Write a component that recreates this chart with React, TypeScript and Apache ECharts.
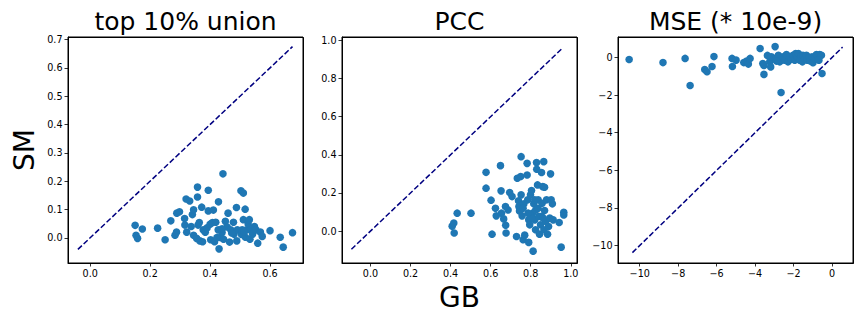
import React, { useEffect, useRef } from "react";
import * as echarts from "echarts";

const titles = ["top 10% union", "PCC", "MSE (* 10e-9)"];
const xLabel = "GB";
const yLabel = "SM";

const unionX = [0.150,0.153,0.158,0.174,0.225,0.25,0.269,0.283,0.288,0.289,0.298,0.315,0.316,0.320,0.322,0.332,0.337,0.341,0.345,0.345,0.355,0.358,0.358,0.360,0.364,0.366,0.372,0.375,0.377,0.384,0.390,0.394,0.394,0.40,0.402,0.408,0.411,0.415,0.419,0.423,0.427,0.428,0.430,0.434,0.440,0.443,0.445,0.451,0.457,0.460,0.465,0.469,0.478,0.480,0.488,0.489,0.491,0.503,0.505,0.507,0.511,0.511,0.517,0.518,0.522,0.527,0.531,0.533,0.536,0.542,0.548,0.553,0.559,0.568,0.574,0.60,0.634,0.644,0.675,0.44,0.472,0.513];
const unionY = [0.044,0.009,-0.002,0.031,0.034,-0.007,0.060,0.009,0.020,0.087,0.092,0.068,0.045,0.137,0.020,0.130,0.040,0.082,0.099,0.009,-0.002,0.179,0.144,0.045,0.054,-0.011,0.108,-0.014,0.028,0.020,0.035,0.168,0.095,0.048,-0.007,0.054,0.098,-0.014,0.055,0.001,0.028,0.127,-0.039,0.001,0.019,0.226,-0.005,0.058,0.038,0.087,-0.015,0.028,0.055,0.013,0.107,-0.011,0.028,0.166,0.012,0.028,0.158,0.064,0.101,0.002,0.028,0.049,0.064,-0.005,0.028,0.013,0.040,0.028,-0.019,0.020,0.005,0.025,0.002,-0.033,0.018,0.032,0.017,0.022];

const pccX = [0.408,0.416,0.418,0.433,0.502,0.577,0.577,0.602,0.607,0.624,0.628,0.649,0.652,0.654,0.665,0.674,0.675,0.677,0.687,0.695,0.707,0.729,0.733,0.739,0.741,0.744,0.750,0.752,0.752,0.757,0.762,0.766,0.770,0.782,0.782,0.785,0.790,0.790,0.795,0.799,0.804,0.809,0.812,0.815,0.820,0.824,0.825,0.829,0.830,0.834,0.837,0.840,0.844,0.849,0.854,0.857,0.860,0.865,0.866,0.869,0.869,0.875,0.879,0.884,0.889,0.895,0.899,0.902,0.908,0.912,0.942,0.952,0.965,0.965,0.837,0.854,0.804,0.862,0.820,0.787,0.762];
const pccY = [0.026,0.042,-0.010,0.094,0.094,0.308,0.225,0.162,-0.016,0.120,0.080,0.343,0.211,0.094,0.064,0.129,0.031,-0.010,0.111,0.202,0.181,-0.028,0.277,0.159,0.129,0.106,0.286,0.390,0.190,0.080,-0.045,0.143,-0.021,0.355,0.294,0.164,0.059,-0.059,0.033,0.190,0.213,0.094,-0.105,0.143,0.059,0.007,0.111,0.359,0.324,0.242,0.164,0.077,-0.016,0.033,0.307,0.146,0.233,0.364,0.007,0.230,0.108,0.051,0.164,-0.016,0.024,0.068,0.300,0.164,0.143,0.059,0.045,-0.084,0.099,0.085,0.120,0.077,0.068,0.068,0.164,0.094,0.120];

const mseX = [-10.55,-8.79,-7.64,-7.38,-6.62,-6.50,-6.24,-6.14,-5.20,-5.18,-4.99,-4.59,-4.44,-4.35,-4.26,-3.74,-3.60,-3.54,-3.54,-3.36,-3.24,-3.19,-3.15,-2.96,-2.93,-2.79,-2.72,-2.65,-2.55,-2.46,-2.37,-2.29,-2.20,-2.11,-2.03,-1.94,-1.89,-1.80,-1.75,-1.68,-1.63,-1.54,-1.51,-1.42,-1.33,-1.28,-1.20,-1.13,-1.04,-0.99,-0.90,-0.81,-0.73,-0.64,-0.55,-0.52,-0.68,-2.89];
const mseY = [-0.106,-0.27,-0.05,-1.49,-0.64,-0.76,-0.48,0.05,-0.05,-0.48,-0.14,-0.27,-0.19,-0.35,-0.05,0.48,-0.32,-0.90,-0.42,0.11,-0.23,-0.50,0.04,0.58,-0.05,0.12,-0.23,-1.86,0.04,-0.14,0.16,-0.23,0.0,-0.09,0.12,-0.14,0.21,0.04,0.21,-0.14,0.07,-0.23,0.12,-0.05,0.12,-0.14,0.0,-0.18,0.04,-0.28,-0.05,0.16,-0.11,0.16,0.12,-0.85,-0.14,-0.19];

const diagEnds = [[-0.041, 0.675], [-0.095, 0.96], [-10.38, 0.55]];
const xRanges = [[-0.074, 0.71], [-0.142, 1.031], [-11.13, 1.09]];
const yRanges = [[-0.089, 0.709], [-0.167, 1.017], [-10.93, 1.09]];
const xTicks = [[0, 0.2, 0.4, 0.6], [0, 0.2, 0.4, 0.6, 0.8, 1.0], [-10, -8, -6, -4, -2, 0]];
const yTicks = [[0, 0.1, 0.2, 0.3, 0.4, 0.5, 0.6, 0.7], [0, 0.2, 0.4, 0.6, 0.8, 1.0], [-10, -8, -6, -4, -2, 0]];

const FONT = "DejaVu Sans";
const gridLefts = [68, 342, 618];
const GW = 235;
const GT = 37;
const GH = 226;

function fmt(panel: number) {
  return (v: number) => {
    if (panel === 2) {
      const r = Math.round(v);
      return r < 0 ? "\u2212" + Math.abs(r) : String(r);
    }
    return v.toFixed(1);
  };
}

export default function App() {
  const ref = useRef<HTMLDivElement>(null);
  useEffect(() => {
    if (!ref.current) return;
    const chart = echarts.init(ref.current, null, { renderer: "svg" });
    const xs = [unionX, pccX, mseX];
    const ys = [unionY, pccY, mseY];
    const grids: any[] = [];
    const xAxes: any[] = [];
    const yAxes: any[] = [];
    const series: any[] = [];
    const graphics: any[] = [];
    for (let i = 0; i < 3; i++) {
      grids.push({
        left: gridLefts[i], top: GT, width: GW, height: GH,
        show: true, borderColor: "#000", borderWidth: 1,
      });
      const tick = { show: true, inside: false, length: 3.5, lineStyle: { color: "#000", width: 0.8 } };
      const lbl = { color: "#000", fontSize: 9.6, fontFamily: FONT, margin: 5.5, formatter: fmt(i) };
      xAxes.push({
        type: "value", gridIndex: i, min: xRanges[i][0], max: xRanges[i][1], position: "bottom",
        axisLine: { show: true, onZero: false, lineStyle: { color: "#000", width: 1 } },
        splitLine: { show: false },
        axisTick: { ...tick, customValues: xTicks[i] },
        axisLabel: { ...lbl, customValues: xTicks[i] },
      });
      yAxes.push({
        type: "value", gridIndex: i, min: yRanges[i][0], max: yRanges[i][1], position: "left",
        axisLine: { show: true, onZero: false, lineStyle: { color: "#000", width: 1 } },
        splitLine: { show: false },
        axisTick: { ...tick, customValues: yTicks[i] },
        axisLabel: { ...lbl, customValues: yTicks[i] },
      });
      series.push({
        type: "scatter", xAxisIndex: i, yAxisIndex: i,
        data: xs[i].map((x, k) => [x, ys[i][k]]),
        symbolSize: 7.6, itemStyle: { color: "#1f77b4", opacity: 1 },
      });
      series.push({
        type: "line", xAxisIndex: i, yAxisIndex: i,
        data: [[diagEnds[i][0], diagEnds[i][0]], [diagEnds[i][1], diagEnds[i][1]]],
        symbol: "none", lineStyle: { color: "#000080", width: 1.5, type: [5.5, 2.4] },
        z: 3,
      });
      graphics.push({
        type: "rect", shape: { x: gridLefts[i] + 0.5, y: GT + 0.5, width: GW, height: GH },
        style: { fill: "rgba(0,0,0,0)", stroke: "#000", lineWidth: 1 }, silent: true, z: 100,
      });
      graphics.push({
        type: "text", x: gridLefts[i] + GW / 2, y: 21,
        style: { text: titles[i], fontSize: 25, fontFamily: FONT, fill: "#000", align: "center", verticalAlign: "middle" },
      });
    }
    graphics.push({
      type: "text", x: 24, y: 150, rotation: Math.PI / 2,
      style: { text: yLabel, fontSize: 28, fontFamily: FONT, fill: "#000", align: "center", verticalAlign: "middle" },
    });
    graphics.push({
      type: "text", x: gridLefts[1] + GW / 2, y: 297,
      style: { text: xLabel, fontSize: 28, fontFamily: FONT, fill: "#000", align: "center", verticalAlign: "middle" },
    });
    chart.setOption({
      animation: false,
      backgroundColor: "#fff",
      grid: grids,
      xAxis: xAxes,
      yAxis: yAxes,
      series,
      graphic: graphics,
    });
    return () => chart.dispose();
  }, []);
  return <div ref={ref} style={{ width: 864, height: 324, position: "absolute", left: 0, top: 0 }} />;
}
